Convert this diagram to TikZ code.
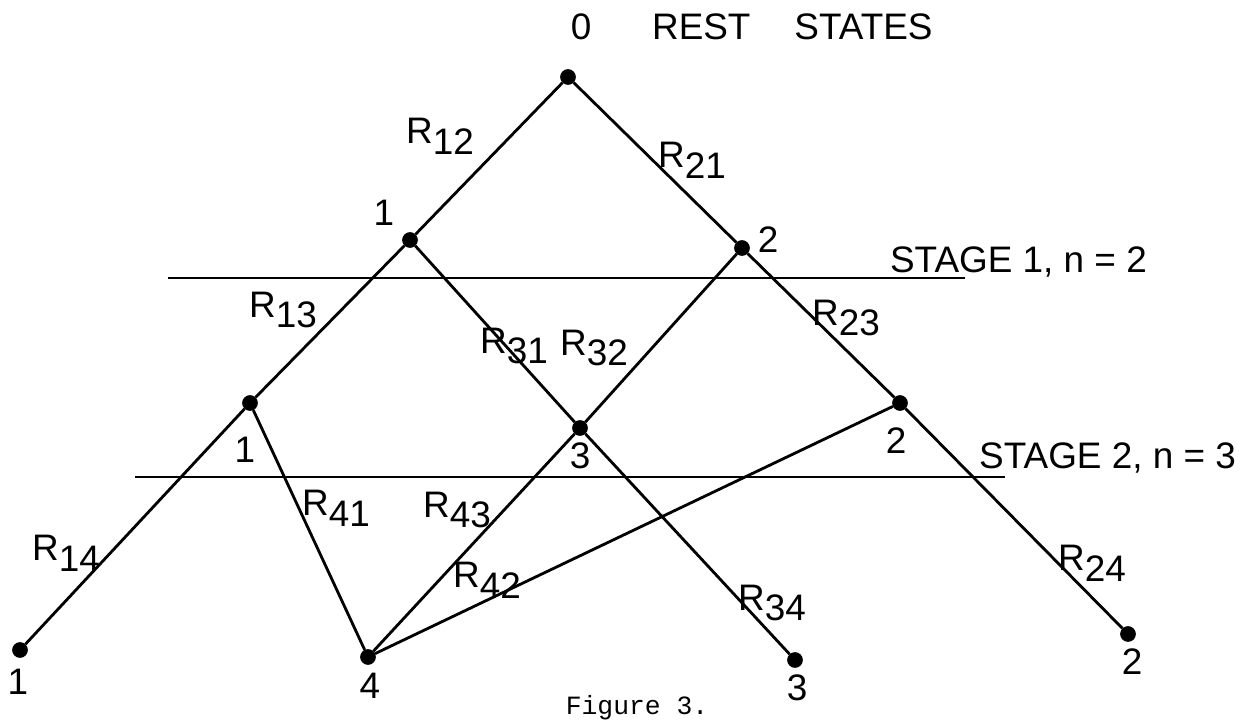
\documentclass[tikz,border=0pt]{standalone}
\usepackage{fontspec}
\setmainfont{Liberation Sans}
\newfontfamily\capfont{Liberation Mono}
\usetikzlibrary{positioning}
\newcommand{\Rs}[1]{R\raisebox{-0.55ex}{#1}}

\begin{document}
\begin{tikzpicture}[
    x=0.02cm, y=-0.02cm,
    every node/.style={font=\fontsize{21}{24}\selectfont, inner sep=1pt},
    zustand/.style={circle, fill=black, draw=black, inner sep=0pt, minimum size=8.5pt},
    kante/.style={line width=1.6pt},
    stufe/.style={line width=1.4pt},
  ]
  \useasboundingbox (0,0) rectangle (1243,724);

  % Zustaende
  \node[zustand] (o)  at (568,77)  {};
  \node[zustand] (a1) at (410,240) {};
  \node[zustand] (a2) at (742,248) {};
  \node[zustand] (b1) at (250,403) {};
  \node[zustand] (b3) at (580,428) {};
  \node[zustand] (b2) at (900,403) {};
  \node[zustand] (c1) at (20,650)  {};
  \node[zustand] (c4) at (368,657) {};
  \node[zustand] (c3) at (795,660) {};
  \node[zustand] (c2) at (1128,634) {};

  % Stufenlinien
  \coordinate (s1a) at (168,278);
  \coordinate (s1b) at (965,278);
  \coordinate (s2a) at (135,477);
  \coordinate (s2b) at (1005,477);
  \draw[stufe] (s1a) -- (s1b);
  \draw[stufe] (s2a) -- (s2b);

  % Kanten
  \draw[kante] (o) -- (a1) (o) -- (a2);
  \draw[kante] (a1) -- (b1) (a1) -- (b3) (a2) -- (b3) (a2) -- (b2);
  \draw[kante] (b1) -- (c1) (b1) -- (c4) (b3) -- (c4) (b3) -- (c3);
  \draw[kante] (b2) -- (c4) (b2) -- (c2);

  % Beschriftung der Zustaende
  \node (lo) at (581,27) {0};
  \node[anchor=west] (titel) at (650,27) {REST\hspace{25pt}STATES};
  \node (la1) at (384,213) {1};
  \node (la2) at (768,240) {2};
  \node (lb1) at (245,450) {1};
  \node (lb3) at (580,456) {3};
  \node (lb2) at (896,441) {2};
  \node (lc1) at (18,682)  {1};
  \node (lc4) at (370,686) {4};
  \node (lc3) at (797,688) {3};
  \node (lc2) at (1132,662) {2};

  % Stufen
  \node[anchor=west] (st1) at (888,262) {STAGE 1, n = 2};
  \node[anchor=east] (st2) at (1238,458) {STAGE 2, n = 3};

  % Raten
  \node (r12) at (440,136) {\Rs{12}};
  \node (r21) at (692,160) {\Rs{21}};
  \node (r13) at (283,310) {\Rs{13}};
  \node (r31) at (514,346) {\Rs{31}};
  \node (r32) at (594,348) {\Rs{32}};
  \node (r23) at (846,318) {\Rs{23}};
  \node (r14) at (66,553)  {\Rs{14}};
  \node (r41) at (336,508) {\Rs{41}};
  \node (r43) at (457,510) {\Rs{43}};
  \node (r42) at (487,580) {\Rs{42}};
  \node (r34) at (772,603) {\Rs{34}};
  \node (r24) at (1092,563) {\Rs{24}};

  \node[font=\capfont\fontsize{15}{18}\selectfont] (cap) at (637,708) {Figure 3.};
\end{tikzpicture}
\end{document}
